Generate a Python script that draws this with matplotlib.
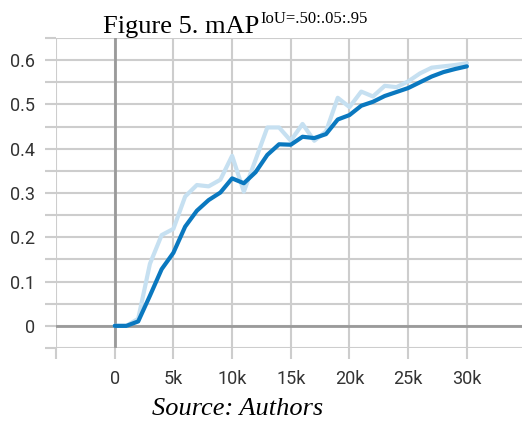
import matplotlib
matplotlib.use("Agg")
import matplotlib.pyplot as plt
import numpy as np

steps = [0, 1000, 2000, 3000, 4000, 5000, 6000, 7000, 8000, 9000, 10000,
         11000, 12000, 13000, 14000, 15000, 16000, 17000, 18000, 19000, 20000,
         21000, 22000, 23000, 24000, 25000, 26000, 27000, 28000, 29000, 30000]
raw_map = [0.0, 0.0, 0.016, 0.140, 0.205, 0.219, 0.292, 0.318, 0.315, 0.330, 0.384,
           0.303, 0.375, 0.448, 0.448, 0.418, 0.456, 0.418, 0.439, 0.515, 0.494,
           0.529, 0.518, 0.542, 0.539, 0.552, 0.570, 0.583, 0.586, 0.589, 0.593]
smooth_map = [0.0, 0.0, 0.010, 0.068, 0.128, 0.165, 0.224, 0.260, 0.284, 0.301, 0.333,
              0.322, 0.347, 0.386, 0.410, 0.409, 0.427, 0.424, 0.433, 0.466, 0.476,
              0.497, 0.506, 0.519, 0.528, 0.537, 0.550, 0.563, 0.573, 0.580, 0.586]
x_ticks = [-5000, 0, 5000, 10000, 15000, 20000, 25000, 30000]
x_labels = ["", "0", "5k", "10k", "15k", "20k", "25k", "30k"]
y_ticks = [-0.05, 0.0, 0.05, 0.1, 0.15, 0.2, 0.25, 0.3, 0.35, 0.4, 0.45, 0.5, 0.55, 0.6, 0.65]
y_labels = ["", "0", "", "0.1", "", "0.2", "", "0.3", "", "0.4", "", "0.5", "", "0.6", ""]

W, H = 522, 421
fig = plt.figure(figsize=(W / 100, H / 100), dpi=100)
ax = fig.add_axes([56 / W, (H - 348) / H, (W - 56) / W, 310 / H])

grid_c = "#cdcdcd"
ax.set_xlim(-5000, (W - 114) / 11.76 * 1000)
ax.set_ylim(-0.05, 0.65)
ax.set_xticks(x_ticks)
ax.set_xticklabels(x_labels)
ax.set_yticks(y_ticks)
ax.set_yticklabels(y_labels)
for s in ax.spines.values():
    s.set_visible(False)
ax.grid(True, color=grid_c, linewidth=1.5, zorder=0)
ax.set_axisbelow(True)
ax.tick_params(axis="both", length=8, width=1.5, color=grid_c,
               labelsize=13, labelcolor="#333333")
ax.tick_params(axis="x", pad=8)
ax.tick_params(axis="y", pad=7)
for lab in ax.get_xticklabels() + ax.get_yticklabels():
    lab.set_fontfamily("Roboto")

ax.axhline(0, color="#9a9a9a", linewidth=2, zorder=1)
ax.axvline(0, color="#9a9a9a", linewidth=2, ymin=0.005, zorder=1)

ax.plot(steps, raw_map, color="#c6e0f1", linewidth=3, zorder=2, solid_capstyle="round")
ax.plot(steps, smooth_map, color="#0a78bf", linewidth=3, zorder=3, solid_capstyle="round")

fig.text(103 / W, (H - 33) / H, "Figure 5. mAP", fontfamily="Liberation Serif",
         fontsize=19, va="baseline", ha="left", color="black")
fig.text(260 / W, (H - 23) / H, "IoU=.50:.05:.95", fontfamily="Liberation Serif",
         fontsize=12, va="baseline", ha="left", color="black")
fig.text(152 / W, (H - 415) / H, "Source: Authors", fontfamily="Liberation Serif",
         fontstyle="italic", fontsize=19, va="baseline", ha="left", color="black")

fig.savefig("out.png", dpi=100)
